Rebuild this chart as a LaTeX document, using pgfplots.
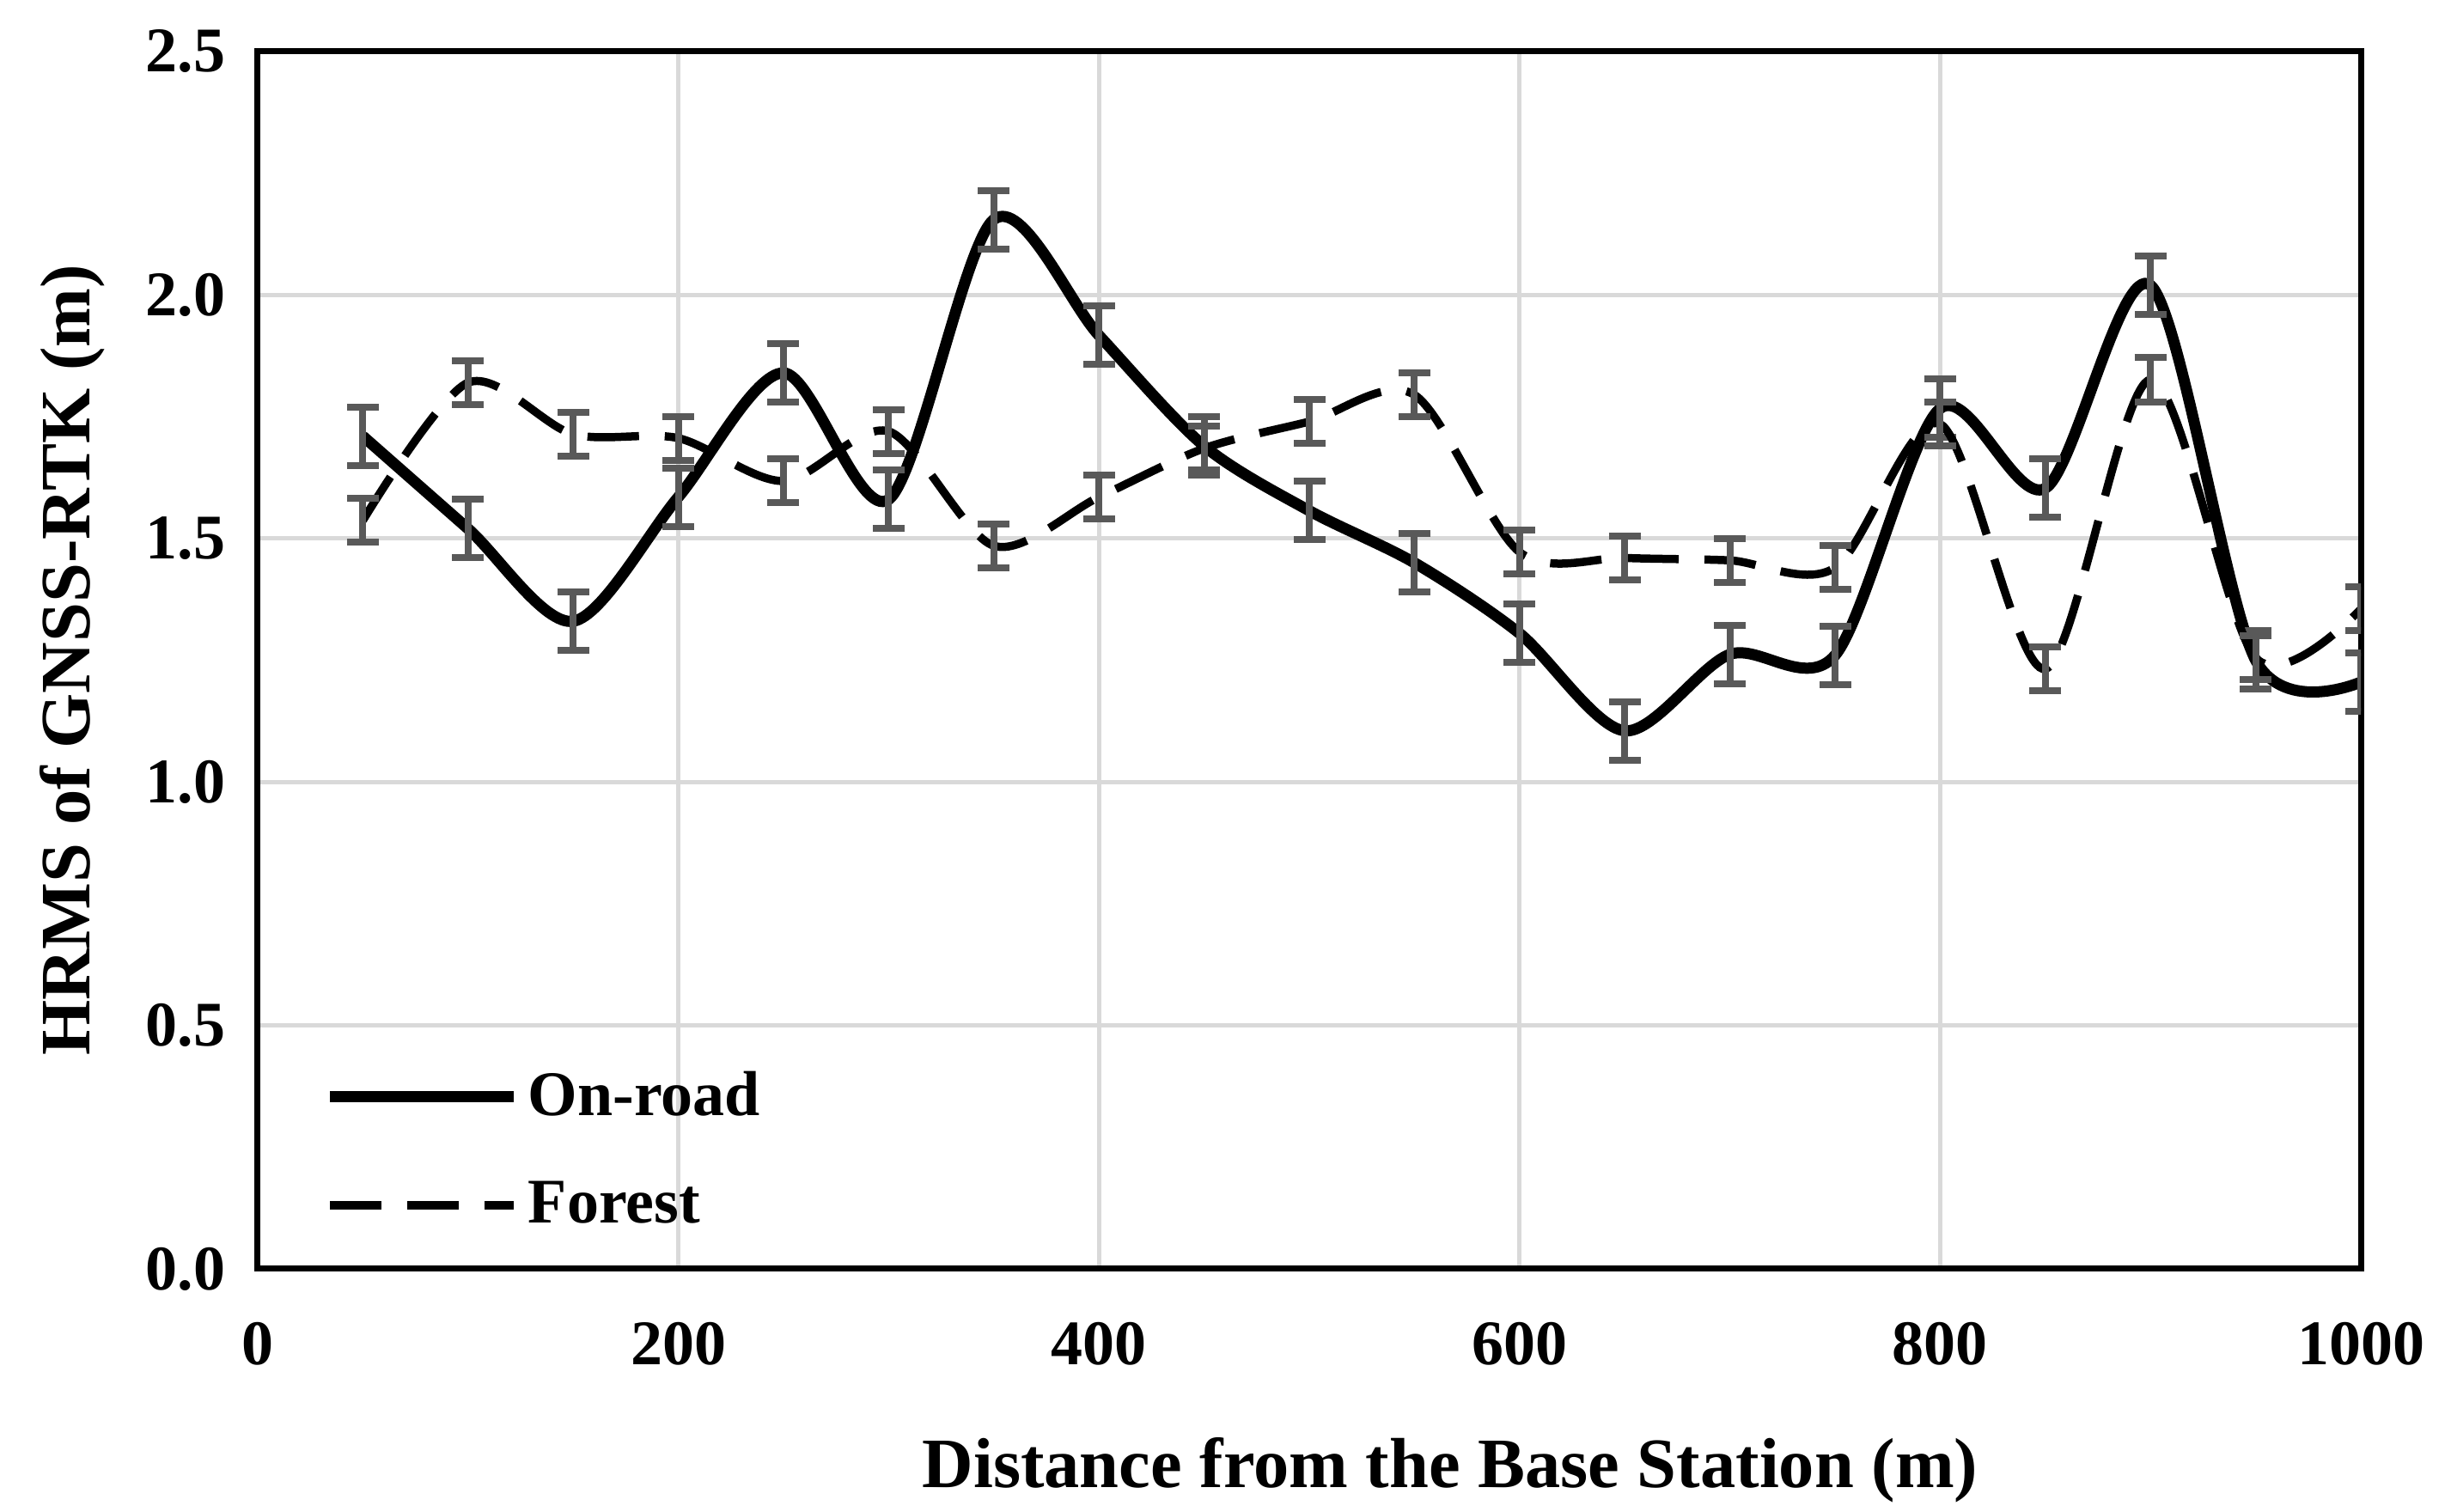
\documentclass[border=0pt]{standalone}
\usepackage{fontspec}
\setmainfont{Liberation Serif}
\usepackage{pgfplots}
\pgfplotsset{compat=1.18}
\definecolor{gridgray}{HTML}{D9D9D9}
\definecolor{errgray}{HTML}{595959}
\begin{document}
\begin{tikzpicture}
\path[use as bounding box] (-60pt,-56.6pt) rectangle (510.6pt,295.4pt);
\begin{axis}[
  scale only axis, width=489.6pt, height=283.4pt,
  at={(0,0)}, anchor=south west,
  xmin=0, xmax=1000, ymin=0, ymax=2.5,
  xtick={0,200,400,600,800,1000}, ytick={0,0.5,1,1.5,2,2.5},
  grid=major, major grid style={gridgray, line width=1pt},
  major tick length=0pt,
  axis line style={black, line width=1.4pt},
  /pgf/number format/assume math mode=true,
  ticklabel style={font=\bfseries\fontsize{14.8}{17}\selectfont},
  yticklabel style={/pgf/number format/fixed, /pgf/number format/fixed zerofill, /pgf/number format/precision=1, xshift=-4pt},
  xticklabel style={/pgf/number format/set thousands separator={}, yshift=-9pt},
  every axis x label/.style={at={([yshift=-51pt]rel axis cs:0.567,0)}, anchor=base},
  every axis y label/.style={at={([xshift=-39pt]rel axis cs:0,0.5)}, rotate=90, anchor=base},
  label style={font=\bfseries\fontsize{16.5}{19}\selectfont},
  xlabel={Distance from the Base Station (m)},
  ylabel={HRMS of GNSS-RTK (m)},
  legend cell align=left,
  legend image code/.code={\draw[#1] (0pt,0pt) -- (42.8pt,0pt);},
  legend style={draw=none, fill=none, at={(rel axis cs:0,0)}, anchor=south west,
    xshift=15.4pt, yshift=7pt, row sep=9.8pt, inner sep=0pt,
    font=\bfseries\fontsize{14.8}{17}\selectfont},
]
\addplot[black, line width=2.6pt, smooth, mark=none,
  error bars/.cd, y dir=both, y explicit,
  error bar style={errgray, line width=1.6pt, solid},
  error mark options={rotate=90, errgray, mark size=3.7pt, line width=1.6pt, solid}]
coordinates {
(50,1.71) +- (0,0.06)
(100,1.52) +- (0,0.06)
(150,1.33) +- (0,0.06)
(200,1.585) +- (0,0.06)
(250,1.84) +- (0,0.06)
(300,1.58) +- (0,0.06)
(350,2.155) +- (0,0.06)
(400,1.917) +- (0,0.06)
(450,1.69) +- (0,0.06)
(500,1.557) +- (0,0.06)
(550,1.45) +- (0,0.06)
(600,1.305) +- (0,0.06)
(650,1.105) +- (0,0.06)
(700,1.262) +- (0,0.06)
(750,1.26) +- (0,0.06)
(800,1.767) +- (0,0.06)
(850,1.603) +- (0,0.06)
(900,2.02) +- (0,0.06)
(950,1.25) +- (0,0.06)
(1000,1.205) +- (0,0.06)
};
\addlegendentry{On-road}
\addplot[black, line width=1.9pt, smooth, mark=none, dash pattern=on 12pt off 6pt,
  error bars/.cd, y dir=both, y explicit,
  error bar style={errgray, line width=1.6pt, solid},
  error mark options={rotate=90, errgray, mark size=3.7pt, line width=1.6pt, solid}]
coordinates {
(50,1.537) +- (0,0.045)
(100,1.82) +- (0,0.045)
(150,1.714) +- (0,0.045)
(200,1.706) +- (0,0.045)
(250,1.618) +- (0,0.045)
(300,1.72) +- (0,0.045)
(350,1.485) +- (0,0.045)
(400,1.585) +- (0,0.045)
(450,1.685) +- (0,0.045)
(500,1.74) +- (0,0.045)
(550,1.795) +- (0,0.045)
(600,1.472) +- (0,0.045)
(650,1.46) +- (0,0.045)
(700,1.455) +- (0,0.045)
(750,1.44) +- (0,0.045)
(800,1.735) +- (0,0.045)
(850,1.232) +- (0,0.045)
(900,1.826) +- (0,0.045)
(950,1.255) +- (0,0.045)
(1000,1.355) +- (0,0.045)
};
\addlegendentry{Forest}
\end{axis}
\end{tikzpicture}
\end{document}
